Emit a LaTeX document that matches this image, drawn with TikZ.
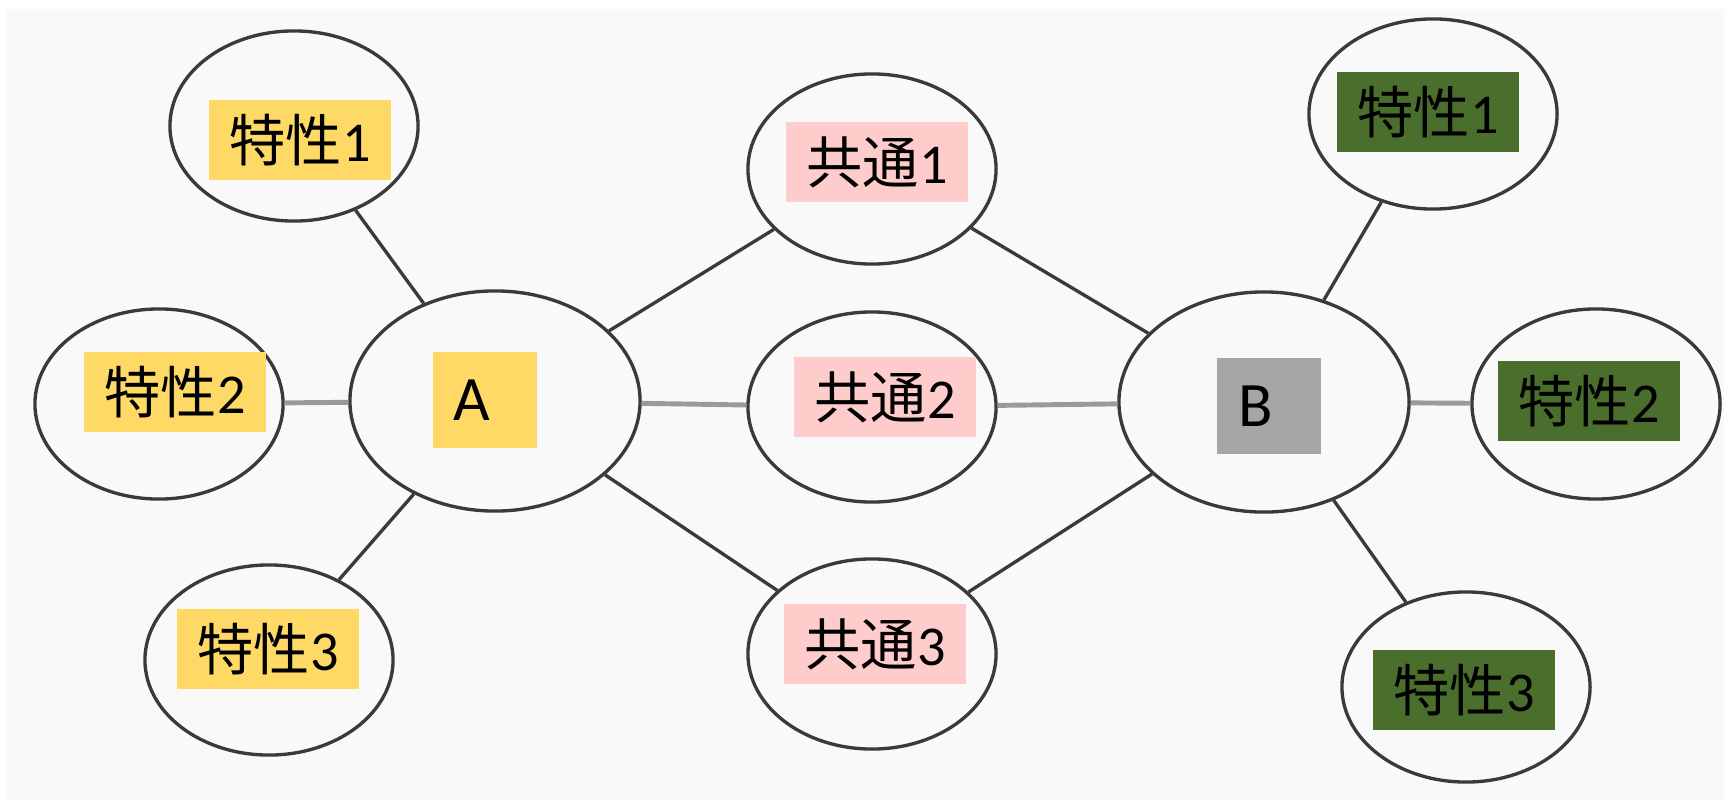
\documentclass[tikz,border=0pt]{standalone}
\usepackage{fontspec}
\setmainfont{Carlito}
\newfontfamily\cjk{Noto Sans CJK JP}
\usetikzlibrary{shapes.geometric}
\definecolor{bg}{HTML}{F9F9F9}
\definecolor{edge}{HTML}{3A3A3A}
\definecolor{hedge}{HTML}{9A9A9A}
\definecolor{ylw}{HTML}{FFD966}
\definecolor{pnk}{HTML}{FFCCCC}
\definecolor{grn}{HTML}{4A6E2C}
\definecolor{gry}{HTML}{A6A6A6}
\begin{document}
\begin{tikzpicture}[x=0.01cm,y=-0.01cm,
  ell/.style={ellipse, draw=edge, line width=0.95pt, inner sep=0pt},
  smallell/.style={ell, minimum width=2.48cm, minimum height=1.9cm},
  bigell/.style={ell, minimum width=2.9cm, minimum height=2.2cm},
  lab/.style={minimum width=1.82cm, minimum height=0.8cm, inner sep=0pt, font=\fontsize{16}{16}\selectfont},
  letter/.style={minimum width=1.04cm, minimum height=0.96cm, inner sep=0pt, font=\fontsize{18}{18}\selectfont},
  conn/.style={draw=edge, line width=0.95pt},
  hconn/.style={draw=hedge, line width=1.4pt}]
\useasboundingbox (0,0) rectangle (1724,800);
\fill[white] (0,0) rectangle (1724,800);
\fill[bg] (6,9) rectangle (1724,800);
% ellipses
\node[smallell] (l1) at (294,126) {};
\node[smallell] (l2) at (159,404) {};
\node[smallell] (l3) at (269,660) {};
\node[bigell] (A) at (495,401) {};
\node[smallell] (c1) at (872,169) {};
\node[smallell] (c2) at (872,407) {};
\node[smallell] (c3) at (872,654) {};
\node[bigell] (B) at (1264,402) {};
\node[smallell] (r1) at (1433,114) {};
\node[smallell] (r2) at (1596,404) {};
\node[smallell] (r3) at (1466,687) {};
% labels
\node[lab, fill=ylw] (l1t) at (300,140) {{\cjk 特性}1};
\node[lab, fill=ylw] (l2t) at (175,392) {{\cjk 特性}2};
\node[lab, fill=ylw] (l3t) at (268,649) {{\cjk 特性}3};
\node[letter, fill=ylw] (At) at (485,400) {\makebox[0.62cm][l]{\raisebox{-0.06cm}{A}}};
\node[lab, fill=pnk] (c1t) at (877,162) {{\cjk 共通}1};
\node[lab, fill=pnk] (c2t) at (885,397) {{\cjk 共通}2};
\node[lab, fill=pnk] (c3t) at (875,644) {{\cjk 共通}3};
\node[letter, fill=gry] (Bt) at (1269,406) {\makebox[0.6cm][l]{\raisebox{-0.04cm}{B}}};
\node[lab, fill=grn] (r1t) at (1428,112) {{\cjk 特性}1};
\node[lab, fill=grn] (r2t) at (1589,401) {{\cjk 特性}2};
\node[lab, fill=grn] (r3t) at (1464,690) {{\cjk 特性}3};
% connectors
\path[conn] (l1) -- (A);
\path[hconn] (l2) -- (A);
\path[conn] (l3) -- (A);
\path[conn] (A) -- (c1);
\path[hconn] (A) -- (c2);
\path[conn] (A) -- (c3);
\path[conn] (c1) -- (B);
\path[hconn] (c2) -- (B);
\path[conn] (c3) -- (B);
\path[conn] (B) -- (r1);
\path[hconn] (B) -- (r2);
\path[conn] (B) -- (r3);
\end{tikzpicture}
\end{document}
